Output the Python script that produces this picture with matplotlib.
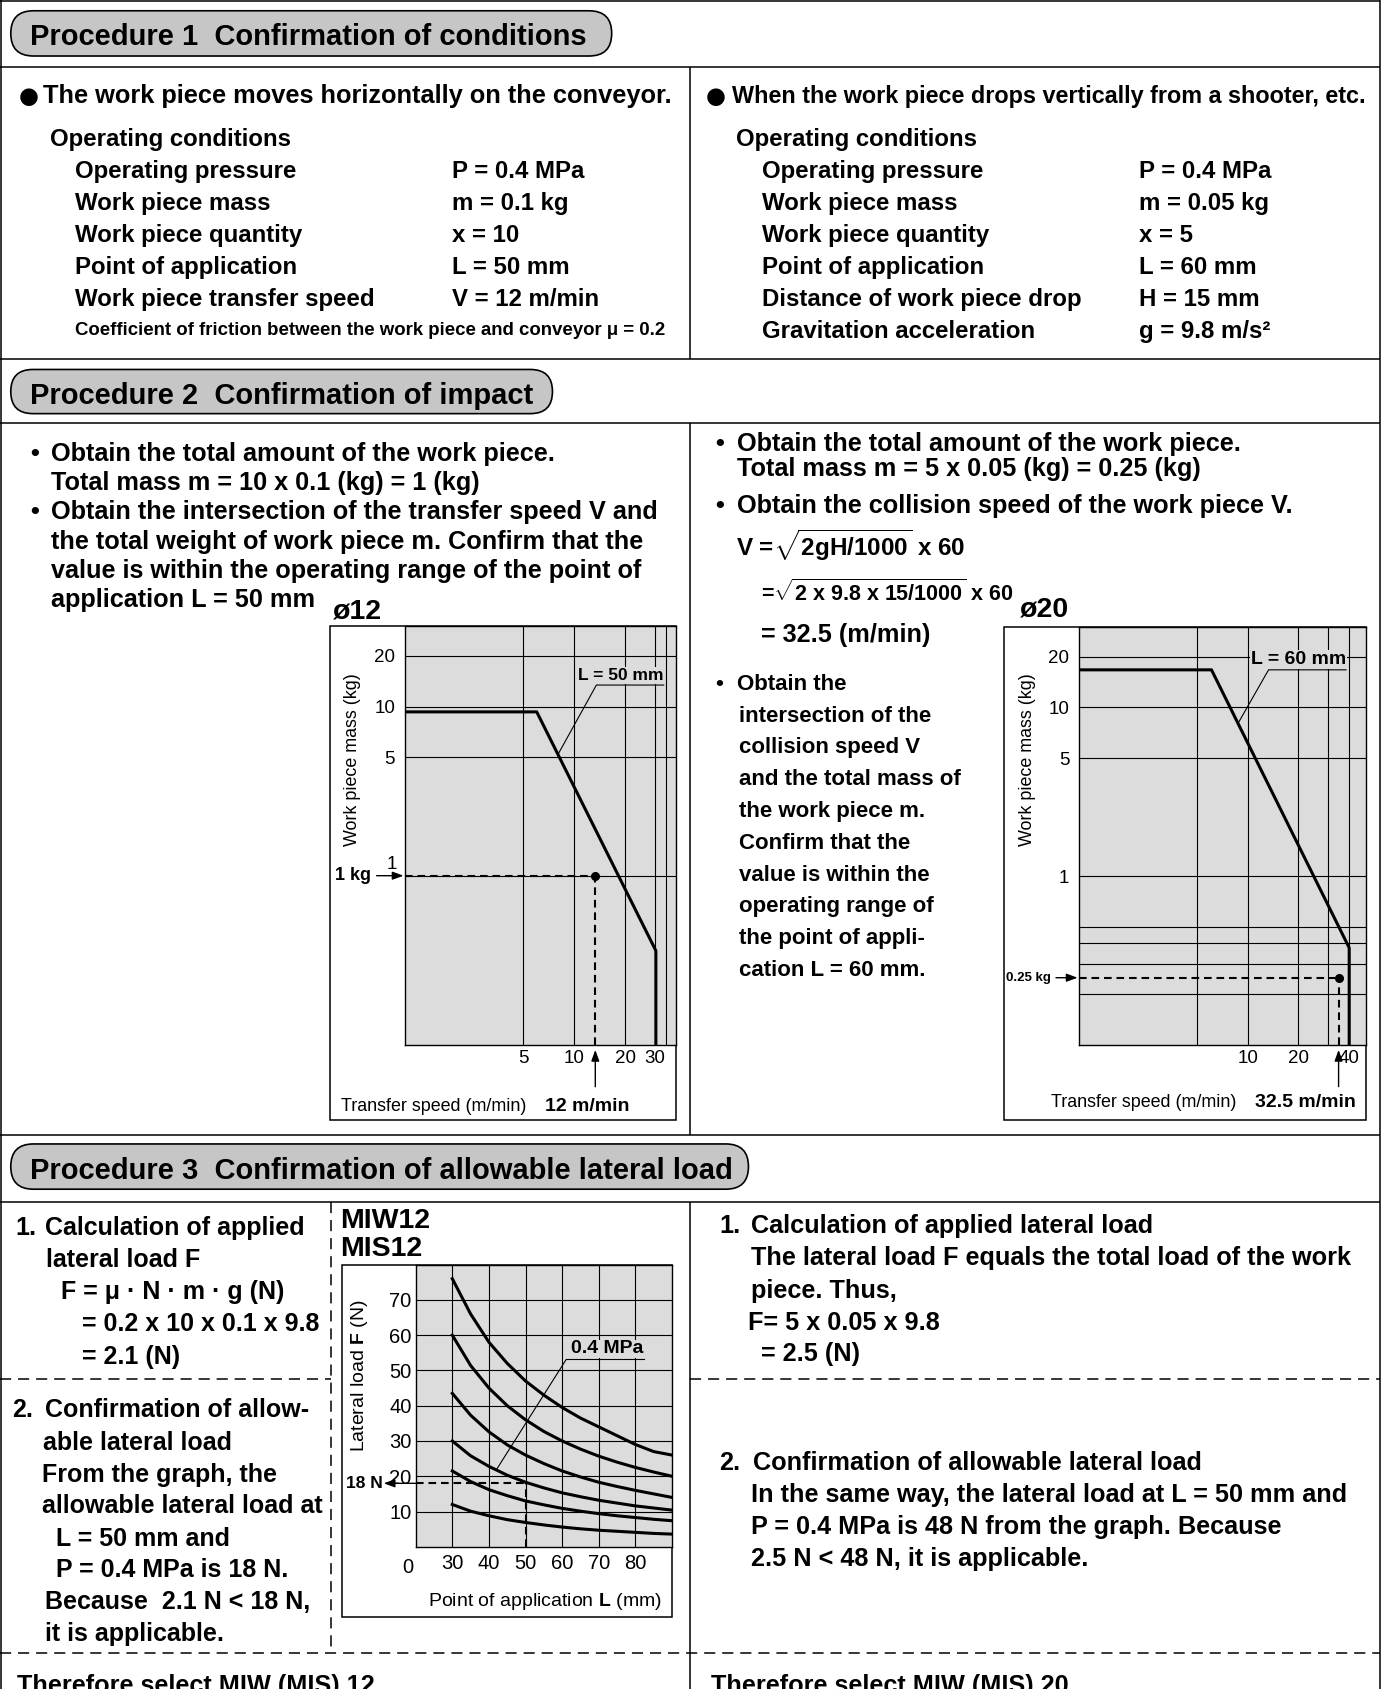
import matplotlib
matplotlib.use("Agg")
import matplotlib.pyplot as plt
from matplotlib import font_manager
from matplotlib.patches import Rectangle, FancyBboxPatch

# ---------------------------------------------------------------
# chart data
# ---------------------------------------------------------------
# o12: transfer speed (m/min) vs allowable work piece mass (kg), L = 50 mm
speed_12 = [1, 6.0, 30.3, 30.3]
mass_12 = [9.3, 9.3, 0.36, 0.1]
check_12 = (13.3, 1.0)            # 12 m/min, 1 kg
grid_12_x = [5, 10, 20, 30, 35]
ticks_12_x = [5, 10, 20, 30]

# o20: collision speed (m/min) vs allowable work piece mass (kg), L = 60 mm
speed_20 = [1, 6.1, 40, 40]
mass_20 = [16.7, 16.7, 0.376, 0.1]
check_20 = (34.6, 0.25)           # 32.5 m/min, 0.25 kg
grid_20_x = [5, 10, 20, 30, 40]
ticks_20_x = [10, 20, 40]
grid_20_y = [0.2, 0.3, 0.4, 0.5, 1, 5, 10, 20]

mass_ticks = [1, 5, 10, 20]

# MIW12 / MIS12: point of application L (mm) vs allowable lateral load F (N)
point_L = [30, 35, 40, 45, 50, 55, 60, 65, 70, 75, 80, 85, 90]
load_curves = [
    [76, 66, 58, 52, 47, 43, 39.5, 36.5, 34, 31.5, 29, 27, 26],
    [60, 51.4, 45, 40, 36, 32.7, 30, 27.7, 25.7, 24, 22.5, 21.2, 20],
    [43.5, 37.3, 32.6, 28.9, 26, 23.6, 21.5, 19.8, 18.3, 17.1, 16, 15, 14],
    [30, 25.8, 22.8, 20.3, 18.3, 16.7, 15.3, 14.2, 13.2, 12.4, 11.6, 11, 10.4],
    [21.5, 18.5, 16.2, 14.5, 13, 11.9, 10.9, 10.1, 9.4, 8.8, 8.3, 7.8, 7.4],
    [12, 10.1, 8.8, 7.7, 6.9, 6.2, 5.6, 5.1, 4.7, 4.4, 4.1, 3.8, 3.6],
]
check_mis = (50, 18)
mis_ticks_x = [30, 40, 50, 60, 70, 80]
mis_ticks_y = [10, 20, 30, 40, 50, 60, 70]

# ---------------------------------------------------------------
plt.rcParams['font.family'] = ['Liberation Sans', 'DejaVu Sans']
plt.rcParams['mathtext.fontset'] = 'custom'
plt.rcParams['mathtext.rm'] = 'Liberation Sans'
plt.rcParams['mathtext.bf'] = 'Liberation Sans:bold'
plt.rcParams['mathtext.it'] = 'Liberation Sans:italic'
plt.rcParams['lines.scale_dashes'] = False

names = {f.name for f in font_manager.fontManager.ttflist}
NARROW = 'Liberation Sans Narrow' in names

W, H = 1287, 1568          # layout units (reference px)
ROWS = 17.3                # condition tables
BODY = 18.2                # explanatory text
PILL = '#c6c6c6'
PLOT_BG = '#dcdcdc'
DASH = (0, (8, 5))

fig = plt.figure(figsize=(13.86, 16.89), dpi=100)
bg = fig.add_axes([0, 0, 1, 1])
bg.set_xlim(0, W)
bg.set_ylim(H, 0)
bg.axis('off')


def frac(x0, y0, x1, y1):
    return [x0 / W, 1 - y1 / H, (x1 - x0) / W, (y1 - y0) / H]


def say(x, y, s, size=BODY, weight='bold', ha='left', **kw):
    bg.text(x, y, s, fontsize=size, fontweight=weight, ha=ha,
            va='center_baseline', **kw)


def rule(xs, ys, dashed=False, lw=1.1):
    bg.plot(xs, ys, color='k', lw=lw, ls=DASH if dashed else '-',
            solid_capstyle='butt')


def pill(x0, y0, x1, y1, title):
    h = y1 - y0
    bg.add_patch(FancyBboxPatch((x0, y0), x1 - x0, h,
                                boxstyle=f"round,pad=0,rounding_size={h / 2}",
                                fc=PILL, ec='k', lw=1.2))
    say(x0 + 18, (y0 + y1) / 2 + 1, title, size=21)


# ---------------- frame ----------------
rule([1, 1], [0, H])
rule([1281, 1281], [0, H])
rule([0, 1281], [1, 1])
for y in [62, 333, 393, 1054, 1116]:
    rule([0, 1281], [y, y])
rule([641, 641], [62, 333])
rule([641, 641], [393, 1054])
rule([641, 641], [1116, H])
rule([307, 307], [1116, 1535], dashed=True)
rule([0, 307], [1280, 1280], dashed=True)
rule([641, 1281], [1280, 1280], dashed=True)
rule([0, 1281], [1535, 1535], dashed=True)

# ---------------- procedure 1 ----------------
pill(10, 10, 568, 52, 'Procedure 1  Confirmation of conditions')
say(17, 87, '●', size=16.5, family=['DejaVu Sans'])
say(40, 87, 'The work piece moves horizontally on the conveyor.', size=18.3)
say(46, 127, 'Operating conditions', size=ROWS)
rows_left = [('Operating pressure', 'P = 0.4 MPa'),
             ('Work piece mass', 'm = 0.1 kg'),
             ('Work piece quantity', 'x = 10'),
             ('Point of application', 'L = 50 mm'),
             ('Work piece transfer speed', 'V = 12 m/min')]
for i, (a, b) in enumerate(rows_left):
    say(70, 157 + 29.7 * i, a, size=ROWS)
    say(420, 157 + 29.7 * i, b, size=ROWS)
coef = 'Coefficient of friction between the work piece and conveyor μ = 0.2'
if NARROW:
    say(70, 305, coef, size=16, family=['Liberation Sans Narrow', 'DejaVu Sans'])
else:
    say(70, 305, coef, size=13.4)

say(655, 87, '●', size=16.5, family=['DejaVu Sans'])
say(680, 87, 'When the work piece drops vertically from a shooter, etc.', size=16.8)
say(683, 127, 'Operating conditions', size=ROWS)
rows_right = [('Operating pressure', 'P = 0.4 MPa'),
              ('Work piece mass', 'm = 0.05 kg'),
              ('Work piece quantity', 'x = 5'),
              ('Point of application', 'L = 60 mm'),
              ('Distance of work piece drop', 'H = 15 mm'),
              ('Gravitation acceleration', 'g = 9.8 m/s²')]
for i, (a, b) in enumerate(rows_right):
    say(708, 157 + 29.7 * i, a, size=ROWS)
    say(1058, 157 + 29.7 * i, b, size=ROWS)

# ---------------- procedure 2 ----------------
pill(10, 343, 513, 384, 'Procedure 2  Confirmation of impact')
left2 = [(419, '•', 'Obtain the total amount of the work piece.'),
         (446, '', 'Total mass m = 10 x 0.1 (kg) = 1 (kg)'),
         (473, '•', 'Obtain the intersection of the transfer speed V and'),
         (501, '', 'the total weight of work piece m. Confirm that the'),
         (528, '', 'value is within the operating range of the point of'),
         (555, '', 'application L = 50 mm')]
for y, b, s in left2:
    if b:
        say(28, y, b)
    say(47, y, s)
say(309, 565, 'ø12', size=20.5)

say(664, 410, '•')
say(684, 410, 'Obtain the total amount of the work piece.')
say(684, 433, 'Total mass m = 5 x 0.05 (kg) = 0.25 (kg)')
say(664, 467, '•')
say(684, 467, 'Obtain the collision speed of the work piece V.')
say(683, 503, r'V =$\sqrt{\mathbf{2gH/1000}}$ x 60', size=17.5)
say(707, 548, r'=$\sqrt{\mathbf{2\ x\ 9.8\ x\ 15/1000}}$ x 60', size=15.5)
say(707, 587, '= 32.5 (m/min)')
say(664, 633, '•', size=16)
right2 = ['Obtain the', 'intersection of the', 'collision speed V',
          'and the total mass of', 'the work piece m.', 'Confirm that the',
          'value is within the', 'operating range of', 'the point of appli-',
          'cation L = 60 mm.']
for i, s in enumerate(right2):
    say(684 if i == 0 else 686, 633 + 29.5 * i, s, size=16)
say(947, 563, 'ø20', size=20.5)


# ---------------- transfer speed charts ----------------
def speed_chart(box, plot, speed, mass, check, xmax, xgrid, ygrid, xticks,
                raise_one, leader_x, leader_y, tag, tag_size):
    bx0, by0, bx1, by1 = box
    bg.add_patch(Rectangle((bx0, by0), bx1 - bx0, by1 - by0, fill=False,
                           ec='k', lw=1.1))
    ax = fig.add_axes(frac(*plot))
    ax.set_xscale('log')
    ax.set_yscale('log')
    ax.set_xlim(1, xmax)
    ax.set_ylim(0.1, 30)
    ax.set_facecolor(PLOT_BG)
    for v in xgrid:
        ax.axvline(v, color='k', lw=0.8, zorder=1)
    for m in ygrid:
        ax.axhline(m, color='k', lw=0.8, zorder=1)
    ax.set_xticks(xticks, [str(t) for t in xticks])
    ax.set_xticks([], minor=True)
    yt = [t for t in mass_ticks if not (raise_one and t == 1)]
    ax.set_yticks(yt, [str(t) for t in yt])
    ax.set_yticks([], minor=True)
    ax.tick_params(length=0, labelsize=13.5, pad=4)
    ax.tick_params(axis='y', pad=7)
    for sp in ax.spines.values():
        sp.set_linewidth(1.0)
    if raise_one:
        ax.annotate('1', xy=(0, 1), xycoords=ax.get_yaxis_transform(),
                    xytext=(-6, 8), textcoords='offset points',
                    ha='right', va='center', fontsize=13.5)

    ax.plot(speed, mass, color='k', lw=2.2, zorder=3)
    cx, cy = check
    ax.plot([1, cx], [cy, cy], color='k', lw=1.5, ls=(0, (5.5, 3.5)), zorder=3)
    ax.plot([cx, cx], [0.1, cy], color='k', lw=1.5, ls=(0, (5.5, 3.5)), zorder=3)
    ax.plot(cx, cy, 'o', color='k', ms=5.5, zorder=4)

    ax.plot(leader_x, leader_y, color='k', lw=0.8, zorder=4)
    ax.annotate(tag, xy=(leader_x[-1], leader_y[-1]), xytext=(0, 1.5),
                textcoords='offset points', ha='right', va='bottom',
                fontsize=tag_size, fontweight='bold', zorder=3,
                bbox=dict(fc=PLOT_BG, ec='none', pad=0.5))

    # arrow from the speed label up to the axis
    tr = ax.get_xaxis_transform()
    ax.annotate('', xy=(cx, -0.012), xycoords=tr, xytext=(cx, -0.1),
                textcoords=tr, annotation_clip=False,
                arrowprops=dict(arrowstyle='-|>,head_length=0.55,head_width=0.2',
                                color='k', lw=1, mutation_scale=12,
                                shrinkA=0, shrinkB=0))
    return ax


ax12 = speed_chart((306, 581, 628, 1040), (376, 581, 628, 970), speed_12,
                   mass_12, check_12, 40, grid_12_x, mass_ticks, ticks_12_x,
                   True, [8.0, 13.5, 33.7], [5.2, 13.4, 13.4], 'L = 50 mm', 12.5)
ax12.annotate('1 kg', xy=(-0.005, check_12[1]),
              xycoords=ax12.get_yaxis_transform(),
              xytext=(-0.125, check_12[1]),
              textcoords=ax12.get_yaxis_transform(), ha='right', va='center',
              fontsize=13, fontweight='bold', annotation_clip=False,
              arrowprops=dict(arrowstyle='-|>,head_length=0.55,head_width=0.2',
                              color='k', lw=1, mutation_scale=12, shrinkB=0))
bg.text(317, 1025, 'Transfer speed (m/min)', fontsize=12.9, va='center_baseline')
say(506, 1025, '12 m/min', size=14)
bg.text(327, 705, 'Work piece mass (kg)', fontsize=12.9, rotation=90,
        ha='center', va='center')

ax20 = speed_chart((932, 582, 1268, 1040), (1002, 582, 1268, 970), speed_20,
                   mass_20, check_20, 50, grid_20_x, grid_20_y, ticks_20_x,
                   False, [8.8, 13.3, 38.3], [8.1, 16.7, 16.7], 'L = 60 mm', 14)
ax20.annotate('0.25 kg', xy=(-0.005, check_20[1]),
              xycoords=ax20.get_yaxis_transform(),
              xytext=(-0.1, check_20[1]),
              textcoords=ax20.get_yaxis_transform(), ha='right', va='center',
              fontsize=9.5, fontweight='bold', annotation_clip=False,
              arrowprops=dict(arrowstyle='-|>,head_length=0.55,head_width=0.2',
                              color='k', lw=1, mutation_scale=12, shrinkB=0))
bg.text(976, 1022, 'Transfer speed (m/min)', fontsize=12.9, va='center_baseline')
say(1165, 1022, '32.5 m/min', size=14)
bg.text(954, 705, 'Work piece mass (kg)', fontsize=12.9, rotation=90,
        ha='center', va='center')

# ---------------- procedure 3 ----------------
pill(10, 1062, 695, 1104, 'Procedure 3  Confirmation of allowable lateral load')

say(14, 1138, '1.', size=18)
left3 = [(42, 1138, 'Calculation of applied'),
         (43, 1167, 'lateral load F'),
         (57, 1197, 'F = μ · N · m · g (N)'),
         (76, 1227, '= 0.2 x 10 x 0.1 x 9.8'),
         (76, 1257, '= 2.1 (N)'),
         (42, 1307, 'Confirmation of allow-'),
         (40, 1337, 'able lateral load'),
         (39, 1367, 'From the graph, the'),
         (39, 1396, 'allowable lateral load at'),
         (52, 1426, 'L = 50 mm and'),
         (52, 1455, 'P = 0.4 MPa is 18 N.'),
         (42, 1485, 'Because  2.1 N < 18 N,'),
         (42, 1515, 'it is applicable.')]
say(11, 1307, '2.', size=18)
for x, y, s in left3:
    say(x, y, s, size=18)

say(668, 1136, '1.')
right3 = [(697, 1136, 'Calculation of applied lateral load'),
          (697, 1166, 'The lateral load F equals the total load of the work'),
          (697, 1196, 'piece. Thus,'),
          (695, 1226, 'F= 5 x 0.05 x 9.8'),
          (707, 1255, '= 2.5 (N)'),
          (699, 1356, 'Confirmation of allowable lateral load'),
          (697, 1386, 'In the same way, the lateral load at L = 50 mm and'),
          (697, 1415, 'P = 0.4 MPa is 48 N from the graph. Because'),
          (697, 1445, '2.5 N < 48 N, it is applicable.')]
say(668, 1356, '2.')
for x, y, s in right3:
    say(x, y, s)

bg.text(16, 1572, 'Therefore select MIW (MIS) 12.', fontsize=BODY,
        fontweight='bold', va='baseline')
bg.text(660, 1572, 'Therefore select MIW (MIS) 20.', fontsize=BODY,
        fontweight='bold', va='baseline')

# ---------------- lateral load chart ----------------
say(316, 1131, 'MIW12', size=20.5)
say(316, 1157, 'MIS12', size=20.5)
bg.add_patch(Rectangle((318, 1174), 624 - 318, 1501 - 1174, fill=False,
                       ec='k', lw=1.1))
axm = fig.add_axes(frac(386, 1174, 624, 1436))
axm.set_xlim(20, 90)
axm.set_ylim(0, 80)
axm.set_facecolor(PLOT_BG)
for v in mis_ticks_x:
    axm.axvline(v, color='k', lw=0.8, zorder=1)
for f in mis_ticks_y:
    axm.axhline(f, color='k', lw=0.8, zorder=1)
axm.set_xticks(mis_ticks_x, [str(t) for t in mis_ticks_x])
axm.set_yticks(mis_ticks_y, [str(t) for t in mis_ticks_y])
axm.tick_params(length=0, labelsize=14.5)
axm.tick_params(axis='x', pad=5)
axm.tick_params(axis='y', pad=3)
for sp in axm.spines.values():
    sp.set_linewidth(1.0)
axm.annotate('0', xy=(20, 0), xytext=(-6, -15), textcoords='offset points',
             ha='center', va='center', fontsize=14.5, annotation_clip=False)
for curve in load_curves:
    axm.plot(point_L, curve, color='k', lw=2.2, zorder=3)
lx, ly = check_mis
axm.plot([20, lx], [ly, ly], color='k', lw=1.5, ls=(0, (5.5, 3.5)), zorder=3)
axm.plot([lx, lx], [0, ly], color='k', lw=1.5, ls=(0, (5.5, 3.5)), zorder=3)
axm.plot([42, 61.1, 82.5], [21.8, 53.1, 53.1], color='k', lw=0.8, zorder=4)
axm.annotate('0.4 MPa', xy=(82.3, 53.1), xytext=(0, 1.5),
             textcoords='offset points', ha='right', va='bottom',
             fontsize=14, fontweight='bold', zorder=3,
             bbox=dict(fc=PLOT_BG, ec='none', pad=0.5))
ytr = axm.get_yaxis_transform()
axm.annotate('', xy=(-0.125, ly), xycoords=ytr, xytext=(0, ly), textcoords=ytr,
             annotation_clip=False,
             arrowprops=dict(arrowstyle='-|>,head_length=0.55,head_width=0.2',
                             color='k', lw=1, mutation_scale=12,
                             shrinkA=0, shrinkB=0))
axm.annotate('18 N', xy=(-0.13, ly), xycoords=ytr, ha='right', va='center',
             fontsize=12.5, fontweight='bold', annotation_clip=False)
bg.text(334, 1277, r'Lateral load $\mathbf{F}$ (N)', fontsize=14, rotation=90,
        ha='center', va='center')
bg.text(506, 1484, r'Point of application $\mathbf{L}$ (mm)', fontsize=14,
        ha='center', va='center_baseline')

fig.savefig('out.png', dpi=100)
